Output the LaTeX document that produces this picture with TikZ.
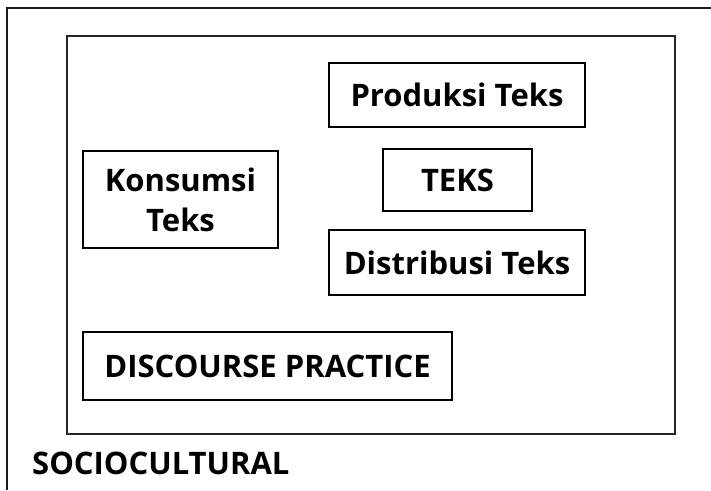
\documentclass[tikz,border=0pt]{standalone}
\usepackage{fontspec}
\setmainfont{Open Sans}
\begin{document}
\begin{tikzpicture}[x=1pt,y=1pt,
  lbl/.style={font=\bfseries\fontsize{31}{40}\selectfont},
  bx/.style={draw=black,line width=1.2pt,inner sep=0pt,lbl,align=center}]
\useasboundingbox (0,0) rectangle (711,490);
\fill[white] (0,0) rectangle (711,490);
% outer frame (top and left edges)
\coordinate (oa) at (7,0);
\coordinate (ob) at (7,482);
\coordinate (oc) at (711,482);
\draw[line width=2.2pt,draw=black!90] (oa) -- (ob) -- (oc);
% inner frame
\node[draw=black!85,line width=1.8pt,minimum width=608pt,minimum height=398pt,inner sep=0pt] (inner) at (371,255) {};
\node[bx,minimum width=256pt,minimum height=64pt] (prod) at (457,395) {Produksi Teks};
\node[bx,minimum width=149pt,minimum height=62pt] (teks) at (457.5,310) {TEKS};
\node[bx,minimum width=256pt,minimum height=65pt] (dist) at (457,227.5) {Distribusi Teks};
\node[bx,minimum width=195pt,minimum height=97pt] (kons) at (180.5,290.5) {Konsumsi\\Teks};
\node[bx,minimum width=369pt,minimum height=68pt] (disc) at (267.5,124) {DISCOURSE PRACTICE};
\node[lbl,anchor=base west,inner sep=0pt] (soc) at (32,16) {SOCIOCULTURAL};
\end{tikzpicture}
\end{document}
